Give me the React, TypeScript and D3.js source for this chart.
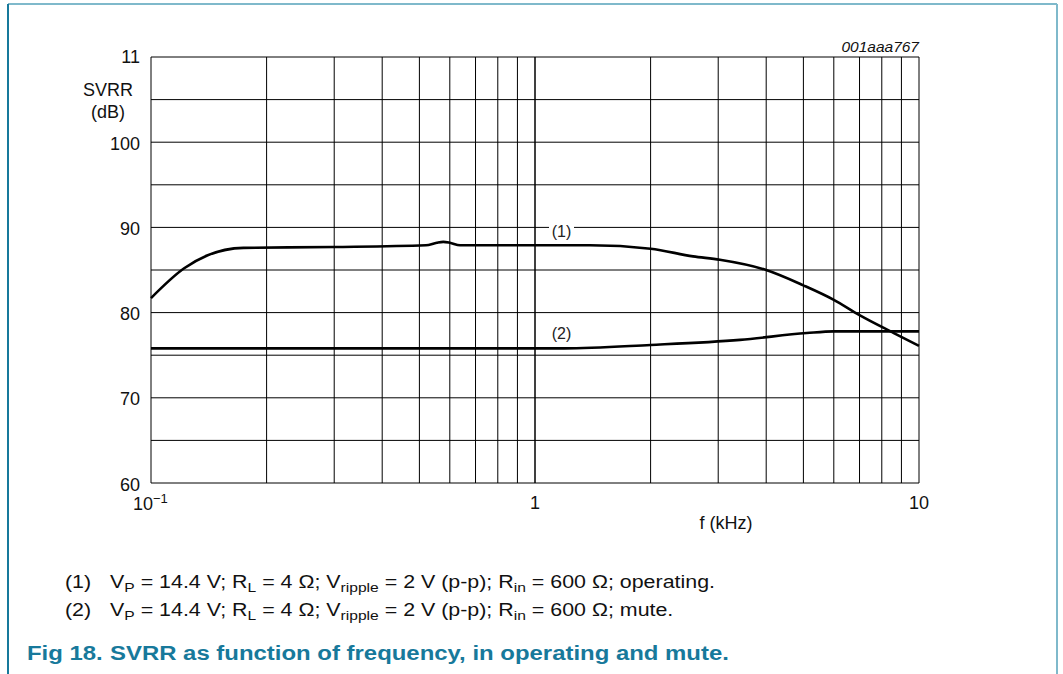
import React from "react";
import * as d3 from "d3";

// curve (1): operating
const freq1 = [0.1, 0.122, 0.14, 0.174, 0.3, 0.52, 0.555, 0.577, 0.6, 0.638, 1.0, 1.39, 2.0, 2.58, 3.03, 4.0, 5.0, 6.0, 7.0, 8.6, 10];
const svrr1 = [81.7, 85.2, 86.7, 87.6, 87.7, 87.9, 88.2, 88.3, 88.2, 87.9, 87.9, 87.9, 87.5, 86.6, 86.2, 85.0, 83.2, 81.5, 79.7, 77.6, 76.1];

// curve (2): mute
const freq2 = [0.1, 0.5, 1.0, 1.19, 2.0, 3.42, 5.1, 6.0, 10];
const svrr2 = [75.8, 75.8, 75.8, 75.8, 76.2, 76.8, 77.6, 77.8, 77.8];

const yTicks = [60, 70, 80, 90, 100];
const yTopLabel = "11";
const yGrid = [60, 65, 70, 75, 80, 85, 90, 95, 100, 105, 110];

const W = 1063;
const H = 674;
const left = 151;
const right = 919;
const top = 57;
const bottom = 483;

const teal = "#17799b";
const lightTeal = "#7fb9cb";
const font = "'Liberation Sans', Arial, sans-serif";

const App = () => {
  const x = d3.scaleLog().domain([0.1, 10]).range([left, right]);
  const y = d3.scaleLinear().domain([60, 110]).range([bottom, top]);

  const xGrid: number[] = [];
  for (const dec of [0.1, 1]) {
    for (let k = 1; k <= 10; k++) xGrid.push(dec * k);
  }

  const line = d3
    .line<[number, number]>()
    .x((d) => x(d[0]))
    .y((d) => y(d[1]))
    .curve(d3.curveMonotoneX);

  const pts1 = freq1.map((f, i) => [f, svrr1[i]] as [number, number]);
  const pts2 = freq2.map((f, i) => [f, svrr2[i]] as [number, number]);

  // notes and caption are drawn a bit wider than the chart text
  const noteSx = 1.157;
  const capSx = 1.14;

  return (
    <svg
      width={W}
      height={H}
      style={{ position: "absolute", left: 0, top: 0, background: "#fff" }}
      fontFamily={font}
    >
      {/* frame */}
      <line x1={8} x2={1057} y1={4} y2={4} stroke={lightTeal} strokeWidth={2} />
      <line x1={1057} x2={1057} y1={4} y2={H} stroke={lightTeal} strokeWidth={2} />
      <line x1={8} x2={8} y1={4} y2={H} stroke={teal} strokeWidth={2} />

      {/* grid */}
      {yGrid.map((v) => (
        <line key={"h" + v} x1={left} x2={right} y1={y(v)} y2={y(v)} stroke="#000" strokeWidth={1} />
      ))}
      {xGrid.map((f, i) => (
        <line key={"v" + i} x1={x(f)} x2={x(f)} y1={top} y2={bottom} stroke="#000" strokeWidth={1} />
      ))}

      {/* curve labels */}
      <rect x={549} y={222} width={25} height={12} fill="#fff" />
      <text x={561.5} y={237} fontSize={16} textAnchor="middle" fill="#222">(1)</text>
      <text x={561.5} y={339} fontSize={16} textAnchor="middle" fill="#222">(2)</text>

      {/* curves */}
      <path d={line(pts1) || ""} fill="none" stroke="#000" strokeWidth={2.6} />
      <path d={line(pts2) || ""} fill="none" stroke="#000" strokeWidth={2.6} />

      {/* y axis labels */}
      <text x={140} y={y(110)} dy="0.36em" fontSize={18} textAnchor="end" fill="#111">{yTopLabel}</text>
      {yTicks.map((v) => (
        <text key={"yt" + v} x={140} y={y(v) + (v === 60 ? 2 : 1)} dy="0.36em" fontSize={18} textAnchor="end" fill="#111">
          {v}
        </text>
      ))}
      <text x={108} y={96} fontSize={18} textAnchor="middle" fill="#111">SVRR</text>
      <text x={108} y={118} fontSize={18} textAnchor="middle" fill="#111">(dB)</text>

      {/* x axis labels */}
      <text x={x(0.1) - 18} y={510} fontSize={18} fill="#111">
        10<tspan fontSize={13} dy={-7}>−1</tspan>
      </text>
      <text x={x(1)} y={509} fontSize={18} textAnchor="middle" fill="#111">1</text>
      <text x={x(10)} y={509} fontSize={18} textAnchor="middle" fill="#111">10</text>
      <text x={726} y={529} fontSize={18} textAnchor="middle" fill="#111">f (kHz)</text>

      <text x={919} y={52} fontSize={15.5} fontStyle="italic" textAnchor="end" fill="#111">001aaa767</text>

      {/* notes */}
      <g transform={`translate(65,0) scale(${noteSx},1) translate(-65,0)`} fontSize={18.5} fill="#111">
        {[
          { id: "(1)", tail: "operating.", yy: 588 },
          { id: "(2)", tail: "mute.", yy: 616 },
        ].map((n) => (
          <g key={n.id}>
            <text x={65} y={n.yy}>{n.id}</text>
            <text x={65 + 45 / noteSx} y={n.yy}>
              V<tspan fontSize={13.5} dy={4}>P</tspan>
              <tspan dy={-4}> = 14.4 V; R</tspan>
              <tspan fontSize={13.5} dy={4}>L</tspan>
              <tspan dy={-4}> = 4 Ω; V</tspan>
              <tspan fontSize={13.5} dy={4}>ripple</tspan>
              <tspan dy={-4}> = 2 V (p-p); R</tspan>
              <tspan fontSize={13.5} dy={4}>in</tspan>
              <tspan dy={-4}>{" = 600 Ω; " + n.tail}</tspan>
            </text>
          </g>
        ))}
      </g>

      {/* caption */}
      <g transform={`translate(27,0) scale(${capSx},1) translate(-27,0)`} fontSize={21} fontWeight="bold" fill={teal}>
        <text x={27} y={660}>Fig 18.</text>
        <text x={27 + 83 / capSx} y={660}>SVRR as function of frequency, in operating and mute.</text>
      </g>
    </svg>
  );
};

export default App;
